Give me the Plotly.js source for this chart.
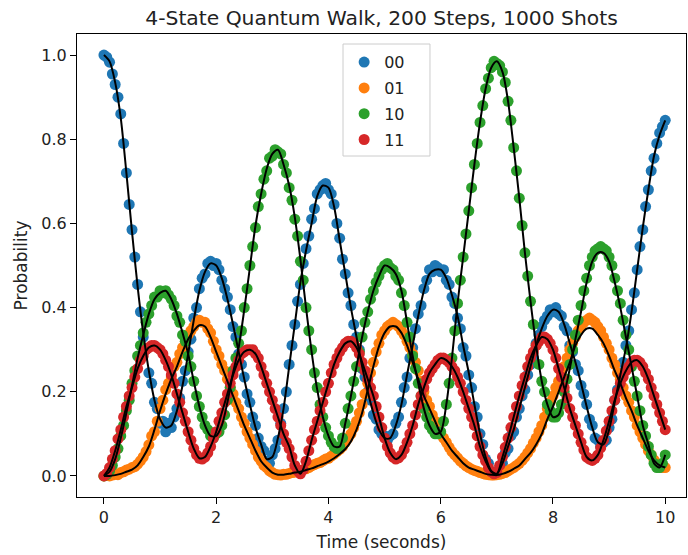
<!DOCTYPE html>
<html>
<head>
<meta charset="utf-8">
<script src="https://cdn.plot.ly/plotly-3.0.1.min.js"></script>
<style>html,body{margin:0;padding:0;background:#fff;}#chart{width:688px;height:555px;}</style>
</head>
<body>
<div id="chart"></div>
<script>
// ---- data ----
const stateLabels = ["00", "01", "10", "11"];
const stateColors = ["#1f77b4", "#ff7f0e", "#2ca02c", "#d62728"];
const titleText = "4-State Quantum Walk, 200 Steps, 1000 Shots";
const xTickVals = [0, 2, 4, 6, 8, 10];
const yTickVals = [0, 0.2, 0.4, 0.6, 0.8, 1.0];

// measured time points (200 steps, 0..10 s)
const timeMeasured = [0,0.05,0.1,0.15,0.2,0.25,0.3,0.35,0.4,0.45,0.5,0.55,0.6,0.65,0.7,0.75,0.8,0.85,0.9,0.95,
1,1.05,1.1,1.15,1.2,1.25,1.3,1.35,1.4,1.45,1.5,1.55,1.6,1.65,1.7,1.75,1.8,1.85,1.9,1.95,
2,2.05,2.1,2.15,2.2,2.25,2.3,2.35,2.4,2.45,2.5,2.55,2.6,2.65,2.7,2.75,2.8,2.85,2.9,2.95,
3,3.05,3.1,3.15,3.2,3.25,3.3,3.35,3.4,3.45,3.5,3.55,3.6,3.65,3.7,3.75,3.8,3.85,3.9,3.95,
4,4.05,4.1,4.15,4.2,4.25,4.3,4.35,4.4,4.45,4.5,4.55,4.6,4.65,4.7,4.75,4.8,4.85,4.9,4.95,
5,5.05,5.1,5.15,5.2,5.25,5.3,5.35,5.4,5.45,5.5,5.55,5.6,5.65,5.7,5.75,5.8,5.85,5.9,5.95,
6,6.05,6.1,6.15,6.2,6.25,6.3,6.35,6.4,6.45,6.5,6.55,6.6,6.65,6.7,6.75,6.8,6.85,6.9,6.95,
7,7.05,7.1,7.15,7.2,7.25,7.3,7.35,7.4,7.45,7.5,7.55,7.6,7.65,7.7,7.75,7.8,7.85,7.9,7.95,
8,8.05,8.1,8.15,8.2,8.25,8.3,8.35,8.4,8.45,8.5,8.55,8.6,8.65,8.7,8.75,8.8,8.85,8.9,8.95,
9,9.05,9.1,9.15,9.2,9.25,9.3,9.35,9.4,9.45,9.5,9.55,9.6,9.65,9.7,9.75,9.8,9.85,9.9,9.95,10];

const measured00 = [1.000,0.995,0.983,0.955,0.93,0.90,0.86,0.79,0.72,0.645,0.585,0.52,0.455,0.39,0.33,0.30,0.245,0.22,0.175,0.16,
0.125,0.13,0.105,0.125,0.115,0.14,0.16,0.185,0.225,0.25,0.295,0.325,0.375,0.40,0.445,0.47,0.48,0.505,0.51,0.50,
0.505,0.49,0.465,0.445,0.425,0.395,0.355,0.33,0.29,0.265,0.235,0.195,0.175,0.14,0.12,0.09,0.07,0.06,0.035,0.03,
0.05,0.065,0.085,0.125,0.16,0.20,0.265,0.31,0.36,0.415,0.455,0.505,0.54,0.57,0.61,0.635,0.67,0.68,0.69,0.695,
0.68,0.67,0.645,0.60,0.565,0.515,0.48,0.435,0.405,0.36,0.33,0.30,0.255,0.235,0.20,0.18,0.145,0.135,0.11,0.10,
0.095,0.085,0.095,0.10,0.125,0.14,0.175,0.21,0.235,0.28,0.305,0.35,0.385,0.405,0.445,0.465,0.49,0.485,0.50,0.495,
0.485,0.49,0.465,0.455,0.425,0.41,0.375,0.35,0.305,0.285,0.24,0.21,0.165,0.14,0.10,0.075,0.04,0.03,0.01,0.008,
0.005,0.02,0.03,0.055,0.065,0.095,0.105,0.14,0.16,0.19,0.205,0.24,0.265,0.28,0.315,0.335,0.355,0.37,0.38,0.395,
0.39,0.40,0.385,0.38,0.355,0.345,0.31,0.295,0.265,0.25,0.215,0.195,0.17,0.135,0.12,0.09,0.085,0.07,0.08,0.085,
0.115,0.135,0.18,0.205,0.245,0.27,0.31,0.345,0.395,0.435,0.49,0.545,0.585,0.64,0.68,0.725,0.755,0.79,0.815,0.83,0.845];

const measured01 = [0.000,0.001,0.000,0.002,0.004,0.003,0.008,0.010,0.014,0.016,0.020,0.022,0.028,0.036,0.045,0.058,0.074,0.095,0.105,0.13,
0.16,0.18,0.205,0.22,0.235,0.26,0.27,0.29,0.305,0.32,0.335,0.345,0.355,0.365,0.37,0.365,0.365,0.35,0.34,0.32,
0.30,0.285,0.265,0.25,0.23,0.21,0.195,0.175,0.16,0.14,0.125,0.105,0.09,0.075,0.06,0.045,0.035,0.025,0.02,0.012,
0.008,0.004,0.003,0.002,0.004,0.004,0.006,0.008,0.009,0.012,0.013,0.015,0.017,0.02,0.024,0.027,0.03,0.032,0.036,0.04,
0.042,0.047,0.052,0.058,0.063,0.07,0.08,0.09,0.10,0.115,0.13,0.15,0.17,0.195,0.22,0.245,0.27,0.295,0.315,0.335,
0.345,0.355,0.36,0.365,0.36,0.355,0.345,0.335,0.32,0.305,0.29,0.27,0.25,0.225,0.20,0.18,0.165,0.145,0.13,0.115,
0.10,0.09,0.08,0.068,0.058,0.05,0.043,0.035,0.03,0.024,0.02,0.016,0.013,0.011,0.008,0.006,0.004,0.003,0.002,0.002,
0.003,0.004,0.006,0.008,0.012,0.016,0.02,0.025,0.03,0.037,0.045,0.055,0.065,0.078,0.09,0.105,0.12,0.14,0.16,0.175,
0.19,0.21,0.225,0.245,0.26,0.28,0.30,0.315,0.33,0.345,0.355,0.365,0.37,0.375,0.37,0.365,0.355,0.345,0.33,0.315,
0.30,0.28,0.265,0.245,0.23,0.21,0.19,0.175,0.155,0.14,0.12,0.105,0.09,0.075,0.06,0.05,0.038,0.03,0.025,0.02,0.02];

const measured10 = [0.0,0.003,0.012,0.025,0.045,0.065,0.095,0.12,0.155,0.18,0.22,0.25,0.285,0.31,0.34,0.365,0.385,0.405,0.425,0.425,
0.44,0.435,0.44,0.43,0.42,0.405,0.38,0.365,0.335,0.32,0.285,0.26,0.225,0.19,0.165,0.14,0.12,0.11,0.095,0.09,
0.10,0.105,0.12,0.145,0.18,0.21,0.25,0.28,0.315,0.345,0.40,0.445,0.50,0.545,0.59,0.64,0.67,0.705,0.725,0.755,
0.76,0.775,0.77,0.765,0.74,0.72,0.685,0.655,0.61,0.57,0.51,0.465,0.40,0.345,0.30,0.245,0.21,0.17,0.14,0.115,
0.095,0.08,0.07,0.065,0.07,0.09,0.125,0.16,0.19,0.225,0.26,0.295,0.33,0.365,0.39,0.42,0.44,0.46,0.475,0.49,
0.50,0.505,0.495,0.49,0.475,0.465,0.435,0.405,0.365,0.33,0.285,0.255,0.22,0.19,0.16,0.14,0.12,0.11,0.10,0.10,
0.105,0.13,0.17,0.22,0.28,0.345,0.41,0.465,0.52,0.575,0.63,0.685,0.74,0.79,0.84,0.88,0.92,0.945,0.97,0.985,
0.98,0.975,0.96,0.935,0.89,0.845,0.78,0.725,0.66,0.595,0.53,0.475,0.415,0.36,0.31,0.265,0.225,0.20,0.17,0.155,
0.14,0.14,0.15,0.17,0.20,0.23,0.265,0.30,0.335,0.37,0.405,0.44,0.47,0.50,0.52,0.535,0.54,0.545,0.54,0.535,
0.52,0.50,0.47,0.44,0.41,0.37,0.335,0.30,0.26,0.225,0.19,0.155,0.12,0.095,0.07,0.05,0.03,0.02,0.02,0.03,0.05];

const measured11 = [0.0,0.006,0.02,0.04,0.06,0.088,0.11,0.14,0.165,0.19,0.21,0.235,0.255,0.275,0.285,0.30,0.305,0.31,0.31,0.305,
0.30,0.29,0.275,0.26,0.24,0.22,0.195,0.175,0.15,0.13,0.105,0.085,0.065,0.05,0.042,0.04,0.045,0.055,0.07,0.09,
0.105,0.13,0.15,0.175,0.195,0.22,0.24,0.26,0.275,0.29,0.295,0.30,0.30,0.30,0.29,0.28,0.26,0.24,0.22,0.20,
0.18,0.16,0.14,0.12,0.10,0.08,0.065,0.045,0.025,0.012,0.005,0.015,0.035,0.06,0.085,0.11,0.13,0.155,0.175,0.20,
0.22,0.245,0.265,0.28,0.295,0.305,0.315,0.32,0.32,0.315,0.305,0.29,0.27,0.25,0.23,0.21,0.19,0.165,0.14,0.115,
0.09,0.07,0.055,0.045,0.04,0.043,0.05,0.063,0.08,0.10,0.12,0.145,0.17,0.19,0.21,0.23,0.245,0.255,0.265,0.275,
0.28,0.28,0.275,0.27,0.26,0.25,0.235,0.22,0.20,0.18,0.16,0.14,0.12,0.095,0.07,0.05,0.035,0.02,0.01,0.005,
0.008,0.025,0.045,0.068,0.09,0.115,0.14,0.165,0.19,0.215,0.235,0.26,0.28,0.295,0.31,0.32,0.33,0.33,0.325,0.315,
0.30,0.28,0.255,0.235,0.21,0.185,0.16,0.14,0.12,0.10,0.08,0.062,0.045,0.04,0.037,0.042,0.05,0.067,0.085,0.107,
0.13,0.155,0.18,0.20,0.22,0.235,0.25,0.26,0.27,0.275,0.275,0.27,0.26,0.245,0.23,0.21,0.19,0.17,0.15,0.13,0.11];

// theoretical curves (black lines), read every 0.1 s
const timeTheory = [0,0.1,0.2,0.3,0.4,0.5,0.6,0.7,0.8,0.9,1,1.1,1.2,1.3,1.4,1.5,1.6,1.7,1.8,1.9,
2,2.1,2.2,2.3,2.4,2.5,2.6,2.7,2.8,2.9,3,3.1,3.2,3.3,3.4,3.5,3.6,3.7,3.8,3.9,
4,4.1,4.2,4.3,4.4,4.5,4.6,4.7,4.8,4.9,5,5.1,5.2,5.3,5.4,5.5,5.6,5.7,5.8,5.9,
6,6.1,6.2,6.3,6.4,6.5,6.6,6.7,6.8,6.9,7,7.1,7.2,7.3,7.4,7.5,7.6,7.7,7.8,7.9,
8,8.1,8.2,8.3,8.4,8.5,8.6,8.7,8.8,8.9,9,9.1,9.2,9.3,9.4,9.5,9.6,9.7,9.8,9.9,10];

const theory00 = [1.000,0.985,0.935,0.850,0.720,0.580,0.450,0.340,0.250,0.180,0.135,0.115,0.120,0.155,0.215,0.290,0.370,0.440,0.485,0.505,
0.500,0.470,0.420,0.360,0.295,0.230,0.170,0.115,0.075,0.040,0.045,0.090,0.160,0.260,0.360,0.460,0.535,0.600,0.665,0.690,
0.685,0.640,0.560,0.480,0.400,0.330,0.260,0.200,0.150,0.110,0.090,0.090,0.120,0.170,0.240,0.310,0.380,0.440,0.480,0.490,
0.490,0.470,0.430,0.380,0.310,0.245,0.170,0.100,0.045,0.012,0.005,0.030,0.070,0.110,0.160,0.210,0.260,0.310,0.350,0.380,
0.395,0.390,0.360,0.315,0.270,0.220,0.165,0.115,0.080,0.075,0.110,0.175,0.240,0.305,0.390,0.490,0.590,0.680,0.760,0.810,0.845];

const theory01 = [0.000,0.000,0.002,0.005,0.010,0.015,0.025,0.045,0.070,0.110,0.155,0.195,0.230,0.260,0.295,0.325,0.345,0.358,0.355,0.330,
0.295,0.260,0.225,0.190,0.155,0.120,0.090,0.060,0.035,0.020,0.008,0.003,0.003,0.005,0.008,0.010,0.014,0.018,0.023,0.028,
0.034,0.042,0.052,0.064,0.082,0.110,0.150,0.205,0.260,0.308,0.340,0.355,0.355,0.340,0.310,0.270,0.230,0.190,0.160,0.130,
0.100,0.080,0.060,0.045,0.030,0.020,0.015,0.010,0.005,0.003,0.002,0.005,0.010,0.017,0.025,0.040,0.055,0.075,0.100,0.135,
0.165,0.200,0.235,0.270,0.310,0.335,0.350,0.350,0.335,0.315,0.285,0.250,0.220,0.185,0.155,0.120,0.090,0.060,0.037,0.025,0.020];

const theory10 = [0.000,0.010,0.040,0.090,0.150,0.215,0.280,0.335,0.385,0.420,0.435,0.440,0.420,0.385,0.340,0.290,0.225,0.165,0.120,0.095,
0.095,0.120,0.175,0.245,0.305,0.395,0.495,0.595,0.670,0.730,0.765,0.775,0.740,0.690,0.615,0.515,0.400,0.295,0.205,0.140,
0.095,0.070,0.070,0.125,0.190,0.260,0.330,0.390,0.440,0.475,0.500,0.495,0.480,0.440,0.365,0.285,0.220,0.160,0.120,0.100,
0.105,0.170,0.280,0.410,0.520,0.630,0.740,0.840,0.920,0.970,0.985,0.960,0.890,0.780,0.660,0.530,0.415,0.310,0.225,0.170,
0.140,0.145,0.195,0.255,0.325,0.390,0.460,0.510,0.530,0.530,0.510,0.460,0.400,0.330,0.260,0.190,0.120,0.075,0.030,0.020,0.050];

const theory11 = [0.000,0.020,0.060,0.110,0.165,0.210,0.255,0.285,0.305,0.310,0.300,0.275,0.240,0.195,0.150,0.105,0.065,0.042,0.045,0.070,
0.105,0.150,0.195,0.240,0.275,0.295,0.300,0.290,0.260,0.220,0.180,0.140,0.100,0.070,0.025,0.005,0.035,0.085,0.130,0.175,
0.220,0.265,0.295,0.315,0.320,0.305,0.270,0.230,0.190,0.140,0.090,0.055,0.040,0.050,0.080,0.120,0.170,0.210,0.245,0.265,
0.280,0.275,0.260,0.235,0.200,0.160,0.120,0.070,0.035,0.010,0.005,0.045,0.090,0.140,0.190,0.235,0.280,0.310,0.330,0.325,
0.300,0.255,0.210,0.160,0.120,0.080,0.045,0.037,0.050,0.085,0.130,0.180,0.220,0.250,0.270,0.275,0.260,0.230,0.190,0.150,0.110];

// ---- build traces ----
const measuredSeries = [measured00, measured01, measured10, measured11];
const theorySeries = [theory00, theory01, theory10, theory11];
const traces = [];
measuredSeries.forEach((ys, i) => {
  traces.push({
    type: "scatter", mode: "markers", x: timeMeasured, y: ys,
    name: stateLabels[i], legendgroup: "g" + i,
    marker: {color: stateColors[i], size: 11, line: {width: 0}},
    hoverinfo: "skip"
  });
});
theorySeries.forEach((ys, i) => {
  traces.push({
    type: "scatter", mode: "lines", x: timeTheory, y: ys,
    showlegend: false, legendgroup: "g" + i,
    line: {color: "#000000", width: 2, shape: "spline", smoothing: 0.8},
    hoverinfo: "skip"
  });
});

const axisCommon = {
  showline: true, mirror: true, linecolor: "#000", linewidth: 1,
  ticks: "outside", ticklen: 6, tickwidth: 1, tickcolor: "#000",
  showgrid: false, zeroline: false,
  tickfont: {size: 16, color: "#222"}
};

const layout = {
  width: 688, height: 555,
  paper_bgcolor: "#fff", plot_bgcolor: "#fff",
  font: {family: "DejaVu Sans, sans-serif", color: "#222"},
  margin: {l: 77, r: 2, t: 34, b: 58, pad: 0},
  title: {text: titleText, font: {size: 20.3, color: "#222"}, x: 0.5, xref: "paper", xanchor: "center", y: 1 - 18/555, yref: "container", yanchor: "middle"},
  xaxis: Object.assign({}, axisCommon, {
    range: [-0.48, 10.37], tickvals: xTickVals, ticktext: xTickVals.map(String),
    title: {text: "Time (seconds)", font: {size: 17, color: "#222"}, standoff: 9}
  }),
  yaxis: Object.assign({}, axisCommon, {
    range: [-0.05, 1.05], tickvals: yTickVals, tickformat: ".1f",
    title: {text: "Probability", font: {size: 17, color: "#222"}, standoff: 9}
  }),
  legend: {
    x: 0.437, y: 0.978, xanchor: "left", yanchor: "top",
    bgcolor: "rgba(255,255,255,0)", bordercolor: "rgba(0,0,0,0)", borderwidth: 1,
    font: {size: 16, color: "#222"}, traceorder: "grouped", tracegroupgap: 2
  },
  // legend frame (matplotlib-style wider box)
  shapes: [{
    type: "rect", xref: "paper", yref: "paper",
    x0: 0.4368, x1: 0.5796, y0: 0.7365, y1: 0.9784,
    line: {color: "#cccccc", width: 1}, fillcolor: "rgba(255,255,255,0.8)", layer: "above"
  }],
  showlegend: true
};

Plotly.newPlot("chart", traces, layout, {staticPlot: true, displayModeBar: false});
</script>
</body>
</html>
